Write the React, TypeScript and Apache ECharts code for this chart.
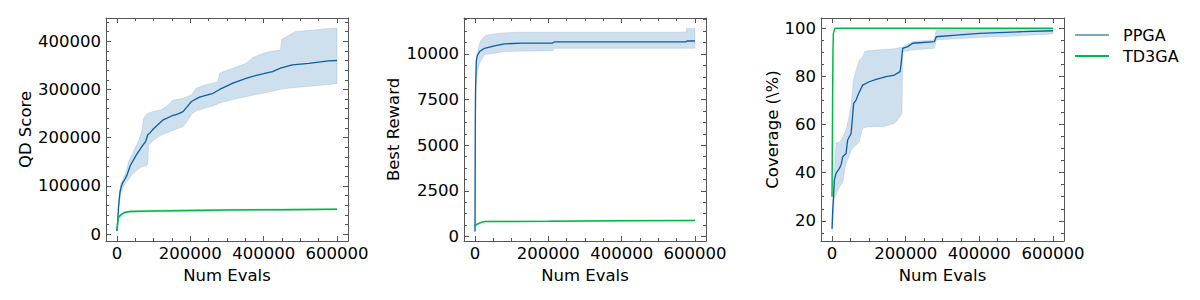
import React, { useEffect, useRef } from 'react';
import * as echarts from 'echarts';

const FONT = 'DejaVu Sans';
const BLUE = '#0C5DA5';
const GREEN = '#00B945';

// tick labels
const xMajor = [0, 200000, 400000, 600000];
const qdMajor = [0, 100000, 200000, 300000, 400000];
const rewardMajor = [0, 2500, 5000, 7500, 10000];
const coverageMajor = [20, 40, 60, 80, 100];

// ---------- Panel 1: QD Score ----------
const qdPPGAMean = [
  [0, 7000], [2000, 30000], [4000, 55000], [6000, 72000], [8000, 86000], [11000, 97000],
  [15000, 106000], [20000, 112000], [27000, 122000], [32000, 133000], [36000, 142000],
  [45000, 154000], [54000, 166000], [62000, 175000], [68000, 182000], [78000, 192000],
  [84000, 206000], [90000, 210000], [99000, 218000], [110000, 226000], [126000, 237000],
  [149000, 245000], [165000, 249000], [180000, 254000], [192000, 265000], [203000, 275000],
  [225000, 284000], [262000, 292000], [280000, 300000], [316000, 313000], [352000, 323000],
  [375000, 328000], [397000, 332000], [424000, 337000], [446000, 344000], [478000, 351000],
  [523000, 354000], [577000, 359000], [600000, 360000],
];
// [x, low, high]
const qdPPGABand = [
  [0, 6000, 8000], [2000, 25000, 38000], [4000, 45000, 65000], [6000, 60000, 82000],
  [8000, 72000, 95000], [11000, 85000, 107000], [15000, 96000, 112000], [20000, 102000, 120000],
  [27000, 110000, 135000], [32000, 114000, 152000], [40000, 122000, 164000], [50000, 130000, 180000],
  [60000, 136000, 195000], [68000, 140000, 215000], [72000, 141000, 240000], [80000, 142000, 248000],
  [84000, 146000, 250000], [86000, 185000, 251000], [100000, 195000, 255000], [120000, 205000, 258000],
  [135000, 210000, 265000], [153000, 215000, 278000], [180000, 223000, 282000], [190000, 232000, 285000],
  [203000, 248000, 289000], [216000, 256000, 303000], [244000, 262000, 310000], [260000, 265000, 313000],
  [275000, 270000, 316000], [280000, 272000, 334000], [316000, 279000, 344000], [352000, 285000, 354000],
  [370000, 288000, 366000], [406000, 293000, 377000], [446000, 300000, 382000], [449000, 301000, 404000],
  [487000, 304000, 420000], [550000, 308000, 424000], [586000, 311000, 427000], [600000, 312000, 427000],
];
const qdTD3GAMean = [
  [0, 7000], [3000, 33000], [10000, 40000], [20000, 45000], [35000, 47000], [100000, 48000],
  [300000, 50000], [450000, 51000], [600000, 52000],
];
const qdTD3GABand = [
  [0, 6000, 8000], [3000, 31000, 35000], [10000, 38000, 42000], [20000, 43000, 47000],
  [35000, 45000, 49000], [100000, 46000, 50000], [300000, 48000, 52000], [450000, 49000, 53000],
  [600000, 50000, 54000],
];

// ---------- Panel 2: Best Reward ----------
const rwPPGAMean = [
  [0, 270], [800, 6000], [1500, 8000], [3500, 9600], [6000, 9900], [12500, 10130],
  [26000, 10310], [53000, 10440], [80000, 10550], [126000, 10590], [212000, 10600],
  [216000, 10660], [575000, 10660], [578000, 10710], [600000, 10710],
];
const rwPPGABand = [
  [0, 250, 400], [800, 4500, 7500], [1500, 6500, 8800], [3500, 8400, 9800], [6500, 9000, 10050],
  [12000, 9450, 10550], [17000, 9670, 10770], [26000, 9950, 10950], [31000, 9980, 11040],
  [53000, 10040, 11100], [72000, 10100, 11130], [81000, 10130, 11160], [120000, 10150, 11190],
  [212000, 10180, 11190], [216000, 10310, 11190], [575000, 10310, 11190], [577000, 10310, 11400],
  [600000, 10310, 11400],
];
const rwTD3GAMean = [
  [0, 580], [3000, 640], [17000, 770], [26000, 820], [200000, 830], [400000, 860], [600000, 876],
];
const rwTD3GABand = [
  [0, 550, 610], [3000, 600, 680], [17000, 735, 805], [26000, 790, 850], [200000, 800, 860],
  [400000, 830, 890], [600000, 846, 906],
];

// ---------- Panel 3: Coverage ----------
const cvPPGAMean = [
  [0, 16.7], [1800, 24.4], [4000, 30], [6300, 37], [10900, 39.7], [19800, 41.8], [24500, 43.2],
  [29000, 46.6], [38000, 48], [42400, 53.6], [51700, 56.3], [58800, 68.8], [65200, 70.2],
  [72400, 73], [83200, 76.4], [101000, 77.8], [119700, 78.8], [146900, 79.9], [169500, 80.6],
  [184800, 82], [187700, 85.4], [192000, 91.7], [205600, 92.4], [219200, 93.8], [278300, 94.5],
  [283000, 96.5], [337300, 97.2], [400600, 97.9], [518000, 98.6], [600000, 99.0],
];
const cvPPGABand = [
  [0, 15.5, 21], [3600, 22, 32.8], [6300, 29.3, 40], [10900, 31, 52.4], [20000, 34, 52.5],
  [29000, 36, 54.7], [38000, 43.9, 58], [47000, 47, 64], [51700, 49.4, 68], [58000, 50.5, 78.5],
  [65000, 51.5, 82.4], [74000, 52.9, 86.8], [83000, 58.4, 88], [88000, 58.8, 90.3],
  [101000, 59.1, 90.8], [140000, 59.2, 91.2], [170000, 60.5, 91.5], [178500, 61.9, 91.8],
  [190000, 64.6, 92.2], [192000, 90.3, 92.4], [205000, 90.7, 93.5], [219000, 91, 94.5],
  [278000, 91.7, 95.2], [283000, 95.2, 99.3], [400000, 96.2, 99.6], [500000, 96.8, 99.8],
  [600000, 97.7, 100],
];
const cvTD3GAMean = [
  [0, 30], [1500, 70], [2500, 90], [3600, 97.9], [8000, 100], [600000, 100],
];

function ticksBetween(from: number, to: number, step: number, exclude: number[]) {
  const out: number[] = [];
  for (let v = from; v <= to + 1e-9; v += step) {
    const r = Math.round(v * 1000) / 1000;
    if (!exclude.includes(r)) out.push(r);
  }
  return out;
}

const AX = '#555';
const textStyle = { fontSize: 16.5, color: '#000', fontFamily: FONT };
const plain = (v: number) => String(v);

function makeAxes(
  gi: number,
  xr: [number, number],
  yr: [number, number],
  xMaj: number[],
  xMin: number[],
  yMaj: number[],
  yMin: number[],
  yName: string,
  yNameGap: number,
) {
  const common = { type: 'value', gridIndex: gi, splitLine: { show: false } };
  const line = { show: true, onZero: false, lineStyle: { color: AX, width: 1 } };
  const noLine = { show: false, onZero: false };
  const maj = (vals: number[]) => ({ show: true, inside: true, length: 5, customValues: vals, lineStyle: { color: AX, width: 1 } });
  const mnr = (vals: number[]) => ({ show: true, inside: true, length: 3, customValues: vals, lineStyle: { color: AX, width: 1 } });
  const xAxes = [
    {
      ...common, min: xr[0], max: xr[1], position: 'bottom', axisLine: line, axisTick: maj(xMaj),
      axisLabel: { show: true, customValues: xMaj, margin: 4, formatter: plain, ...textStyle },
      name: 'Num Evals', nameLocation: 'middle', nameGap: 22, nameTextStyle: textStyle,
    },
    { ...common, min: xr[0], max: xr[1], position: 'top', axisLine: line, axisTick: maj(xMaj), axisLabel: { show: false } },
    { ...common, min: xr[0], max: xr[1], position: 'bottom', axisLine: noLine, axisTick: mnr(xMin), axisLabel: { show: false } },
    { ...common, min: xr[0], max: xr[1], position: 'top', axisLine: noLine, axisTick: mnr(xMin), axisLabel: { show: false } },
  ];
  const yAxes = [
    {
      ...common, min: yr[0], max: yr[1], position: 'left', axisLine: line, axisTick: maj(yMaj),
      axisLabel: { show: true, customValues: yMaj, margin: 5, formatter: plain, ...textStyle },
      name: yName, nameLocation: 'middle', nameGap: yNameGap, nameTextStyle: textStyle,
    },
    { ...common, min: yr[0], max: yr[1], position: 'right', axisLine: line, axisTick: maj(yMaj), axisLabel: { show: false } },
    { ...common, min: yr[0], max: yr[1], position: 'left', axisLine: noLine, axisTick: mnr(yMin), axisLabel: { show: false } },
    { ...common, min: yr[0], max: yr[1], position: 'right', axisLine: noLine, axisTick: mnr(yMin), axisLabel: { show: false } },
  ];
  return { xAxes, yAxes };
}

function bandSeries(gi: number, band: number[][], fill: string, stroke: string, z: number) {
  return {
    type: 'custom',
    xAxisIndex: gi * 4,
    yAxisIndex: gi * 4,
    data: band,
    encode: { x: 0, y: [1, 2] },
    silent: true,
    z,
    renderItem: (params: any, api: any) => {
      if (params.dataIndex !== 0) return null;
      const up = band.map((d) => api.coord([d[0], d[2]]));
      const lo = band.map((d) => api.coord([d[0], d[1]])).reverse();
      return {
        type: 'polygon',
        shape: { points: up.concat(lo) },
        style: { fill, stroke, lineWidth: 1 },
      };
    },
  };
}

function lineSeries(gi: number, name: string, data: number[][], color: string, width: number, z: number) {
  return {
    type: 'line',
    name,
    xAxisIndex: gi * 4,
    yAxisIndex: gi * 4,
    data,
    showSymbol: false,
    symbol: 'none',
    lineStyle: { color, width },
    itemStyle: { color },
    z,
  };
}

export default function App() {
  const ref = useRef<HTMLDivElement>(null);
  useEffect(() => {
    if (!ref.current) return;
    const chart = echarts.init(ref.current, undefined, { renderer: 'svg' });
    const xr: [number, number] = [-30000, 630000];
    const xMinor = ticksBetween(0, 600000, 50000, xMajor);
    const p1 = makeAxes(0, xr, [-14000, 448000], xMajor, xMinor, qdMajor, ticksBetween(0, 440000, 20000, qdMajor), 'QD Score', 72);
    const p2 = makeAxes(1, xr, [-250, 11970], xMajor, xMinor, rewardMajor, ticksBetween(0, 11875, 625, rewardMajor), 'Best Reward', 62);
    const p3 = makeAxes(2, xr, [11.6, 104.3], xMajor, xMinor, coverageMajor, ticksBetween(15, 100, 5, coverageMajor), 'Coverage (\\%)', 40);

    const blueFill = 'rgba(12,93,165,0.2)';
    const blueStroke = 'rgba(12,93,165,0.12)';
    const greenFill = 'rgba(0,185,69,0.2)';
    const greenStroke = 'rgba(0,185,69,0.12)';

    chart.setOption({
      animation: false,
      backgroundColor: '#fff',
      textStyle: { fontFamily: FONT },
      grid: [
        { left: 106, top: 18, width: 242, height: 223 },
        { left: 464, top: 18, width: 242, height: 223 },
        { left: 821, top: 18, width: 243, height: 223 },
      ],
      xAxis: [...p1.xAxes, ...p2.xAxes, ...p3.xAxes],
      yAxis: [...p1.yAxes, ...p2.yAxes, ...p3.yAxes],
      legend: {
        orient: 'vertical',
        left: 1070,
        top: 20,
        itemWidth: 34,
        itemHeight: 2,
        itemGap: 1,
        icon: 'rect',
        data: [
          { name: 'PPGA', itemStyle: { color: 'rgba(12,93,165,0.55)' } },
          { name: 'TD3GA', itemStyle: { color: GREEN } },
        ],
        textStyle: { fontSize: 16, fontFamily: FONT, color: '#000', lineHeight: 20, padding: [0, 0, 0, 9] },
      },
      series: [
        bandSeries(0, qdPPGABand, blueFill, blueStroke, 1),
        bandSeries(0, qdTD3GABand, greenFill, greenStroke, 1),
        lineSeries(0, 'PPGA', qdPPGAMean, BLUE, 1.3, 3),
        lineSeries(0, 'TD3GA', qdTD3GAMean, GREEN, 1.5, 4),

        bandSeries(1, rwPPGABand, blueFill, blueStroke, 1),
        bandSeries(1, rwTD3GABand, greenFill, greenStroke, 1),
        lineSeries(1, 'PPGA', rwPPGAMean, BLUE, 1.3, 3),
        lineSeries(1, 'TD3GA', rwTD3GAMean, GREEN, 1.5, 4),

        bandSeries(2, cvPPGABand, blueFill, blueStroke, 1),
        lineSeries(2, 'PPGA', cvPPGAMean, BLUE, 1.3, 3),
        lineSeries(2, 'TD3GA', cvTD3GAMean, GREEN, 1.5, 4),
      ],
    });
    return () => chart.dispose();
  }, []);
  return <div ref={ref} style={{ position: 'absolute', left: 0, top: 0, width: 1200, height: 300 }} />;
}
